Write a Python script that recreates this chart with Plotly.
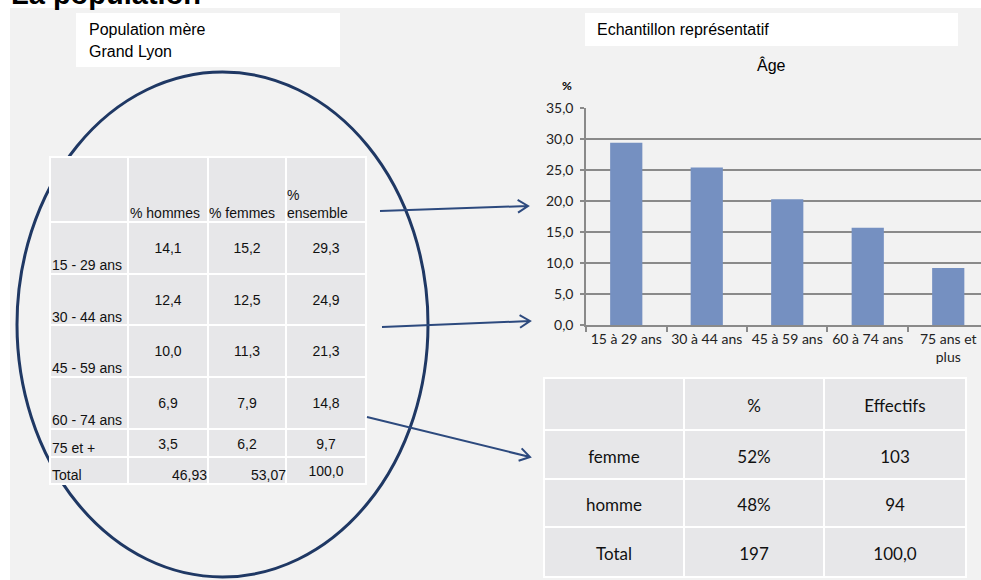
import plotly.graph_objects as go
import math

# ---------------- data ----------------
pop_age_groups = ["15 - 29 ans", "30 - 44 ans", "45 - 59 ans", "60 - 74 ans", "75 et +"]
pop_pct_hommes = [14.1, 12.4, 10.0, 6.9, 3.5]
pop_pct_femmes = [15.2, 12.5, 11.3, 7.9, 6.2]
pop_pct_ensemble = [29.3, 24.9, 21.3, 14.8, 9.7]
pop_totals = ["46,93", "53,07", "100,0"]
pop_headers = ["% hommes", "% femmes", "%<br>ensemble"]

sample_age_groups = ["15 à 29 ans", "30 à 44 ans", "45 à 59 ans", "60 à 74 ans", "75 ans et<br>plus"]
sample_age_pct = [29.4, 25.4, 20.3, 15.7, 9.2]

sexe_headers = ["", "%", "Effectifs"]
sexe_labels = ["femme", "homme", "Total"]
sexe_pct = ["52%", "48%", "197"]
sexe_effectifs = ["103", "94", "100,0"]

# ---------------- layout constants (pixels) ----------------
W, H = 981, 580
pop_col_edges = [0, 78, 158, 236, 316]
pop_row_edges = [0, 65, 117, 168, 220, 272, 300, 327]
sex_col_edges = [0, 140, 280, 422]
sex_row_edges = [0, 52, 101, 149, 199]


def X(px):
    return px / W


def Y(py):
    return 1 - py / H


def fr(v):
    return f"{v:.1f}".replace(".", ",")


NAVY = "#1f3864"
ARROW = "#2d4a7e"
CELL = "#e7e7e9"
SANS = "Liberation Sans, Arial, sans-serif"
CAL = "Lato, sans-serif"

fig = go.Figure()

# ---- bar chart ----
fig.add_trace(go.Bar(
    x=sample_age_groups, y=sample_age_pct, width=0.4,
    marker=dict(color="#7590c1", line=dict(width=0)),
    xaxis="x", yaxis="y", showlegend=False, hoverinfo="skip",
))

# ---- left table (population mère) : cells ----
n_rows_pop = len(pop_row_edges) - 1
n_cols_pop = len(pop_col_edges) - 1
fig.add_trace(go.Heatmap(
    x=pop_col_edges, y=pop_row_edges,
    z=[[1] * n_cols_pop for _ in range(n_rows_pop)],
    colorscale=[[0, CELL], [1, CELL]], showscale=False, xgap=2, ygap=2,
    hoverinfo="skip", xaxis="x2", yaxis="y2",
))

tx, ty, tt, tp = [], [], [], []


def put(x, y, t, p):
    tx.append(x); ty.append(y); tt.append(t); tp.append(p)


col_mid = [(pop_col_edges[i] + pop_col_edges[i + 1]) / 2 for i in range(n_cols_pop)]
# header
put(pop_col_edges[1] + 2, 57, pop_headers[0], "middle right")
put(pop_col_edges[2] + 1, 57, pop_headers[1], "middle right")
put(pop_col_edges[3] + 1, 48.5, pop_headers[2], "middle right")
# body
for i, g in enumerate(pop_age_groups):
    top = pop_row_edges[1 + i]
    tall = i < 4
    put(2, top + (44 if tall else 20), g, "middle right")
    vy = top + (27 if tall else 16)
    for c, vals in enumerate([pop_pct_hommes, pop_pct_femmes, pop_pct_ensemble]):
        put(col_mid[c + 1], vy, fr(vals[i]), "middle center")
top = pop_row_edges[6]
put(2, top + 19, "Total", "middle right")
put(pop_col_edges[2] - 1, top + 19, pop_totals[0], "middle left")
put(pop_col_edges[3], top + 19, pop_totals[1], "middle left")
put(col_mid[3], top + 15, pop_totals[2], "middle center")

fig.add_trace(go.Scatter(
    x=tx, y=ty, text=tt, textposition=tp, mode="text", cliponaxis=False,
    textfont=dict(family=SANS, size=14, color="#111"),
    hoverinfo="skip", showlegend=False, xaxis="x2", yaxis="y2",
))

# ---- right table (échantillon) ----
n_rows_sex = len(sex_row_edges) - 1
n_cols_sex = len(sex_col_edges) - 1
fig.add_trace(go.Heatmap(
    x=sex_col_edges, y=sex_row_edges,
    z=[[1] * n_cols_sex for _ in range(n_rows_sex)],
    colorscale=[[0, CELL], [1, CELL]], showscale=False, xgap=2, ygap=2,
    hoverinfo="skip", xaxis="x3", yaxis="y3",
))
sx, sy, st = [], [], []
scol_mid = [(sex_col_edges[i] + sex_col_edges[i + 1]) / 2 for i in range(n_cols_sex)]
srow_mid = [(sex_row_edges[i] + sex_row_edges[i + 1]) / 2 + 4 for i in range(n_rows_sex)]
table_rows = [sexe_headers] + [list(r) for r in zip(sexe_labels, sexe_pct, sexe_effectifs)]
for r, row in enumerate(table_rows):
    for c, val in enumerate(row):
        if val:
            sx.append(scol_mid[c]); sy.append(srow_mid[r]); st.append(val)
fig.add_trace(go.Scatter(
    x=sx, y=sy, text=st, textposition="middle center", mode="text", cliponaxis=False,
    textfont=dict(family=CAL, size=17, color="#111"),
    hoverinfo="skip", showlegend=False, xaxis="x3", yaxis="y3",
))

# ---------------- decorations ----------------
shapes = [
    dict(type="rect", xref="paper", yref="paper", x0=X(10), x1=X(W), y0=Y(H), y1=Y(8),
         fillcolor="#f2f2f2", line=dict(width=0), layer="below"),
    dict(type="rect", xref="paper", yref="paper", x0=X(76), x1=X(340), y0=Y(67), y1=Y(13),
         fillcolor="white", line=dict(width=0), layer="below"),
    dict(type="rect", xref="paper", yref="paper", x0=X(585), x1=X(958), y0=Y(46), y1=Y(13),
         fillcolor="white", line=dict(width=0), layer="below"),
    dict(type="circle", xref="paper", yref="paper", x0=X(17), x1=X(428), y0=Y(577), y1=Y(72),
         line=dict(color=NAVY, width=3), layer="below"),
    # white backing of the tables (gives the white grid lines)
    dict(type="rect", xref="paper", yref="paper", x0=X(49), x1=X(367), y0=Y(485), y1=Y(156),
         fillcolor="white", line=dict(width=0), layer="below"),
    dict(type="rect", xref="paper", yref="paper", x0=X(543), x1=X(967), y0=Y(578), y1=Y(377),
         fillcolor="white", line=dict(width=0), layer="below"),
]


def arrow(x0, y0, x1, y1, L=12, ang=32):
    dx, dy = x1 - x0, y1 - y0
    n = math.hypot(dx, dy)
    ux, uy = dx / n, dy / n
    pts = []
    for s in (1, -1):
        a = math.radians(ang) * s
        wx = -(ux * math.cos(a) - uy * math.sin(a)) * L
        wy = -(ux * math.sin(a) + uy * math.cos(a)) * L
        pts.append((x1 + wx, y1 + wy))
    path = (f"M{X(x0)},{Y(y0)} L{X(x1)},{Y(y1)} "
            f"M{X(pts[0][0])},{Y(pts[0][1])} L{X(x1)},{Y(y1)} L{X(pts[1][0])},{Y(pts[1][1])}")
    return dict(type="path", xref="paper", yref="paper", path=path,
                line=dict(color=ARROW, width=2), layer="above")


shapes += [arrow(380, 211, 528, 206), arrow(382, 327, 530, 321), arrow(367, 417, 530, 457)]

annotations = [
    dict(text="<b>La population</b>", x=X(9), y=Y(-6), xref="paper", yref="paper",
         xanchor="left", yanchor="middle", showarrow=False,
         font=dict(family=SANS, size=29, color="black")),
    dict(text="Population mère", x=X(87), y=Y(30), xref="paper", yref="paper",
         xanchor="left", yanchor="middle", showarrow=False,
         font=dict(family=SANS, size=16, color="black")),
    dict(text="Grand Lyon", x=X(87), y=Y(51), xref="paper", yref="paper",
         xanchor="left", yanchor="middle", showarrow=False,
         font=dict(family=SANS, size=16, color="black")),
    dict(text="Echantillon représentatif", x=X(595), y=Y(30), xref="paper", yref="paper",
         xanchor="left", yanchor="middle", showarrow=False,
         font=dict(family=SANS, size=16, color="black")),
    dict(text="Âge", x=X(771), y=Y(65), xref="paper", yref="paper",
         xanchor="center", yanchor="middle", showarrow=False,
         font=dict(family=SANS, size=16, color="black")),
    dict(text="<b>%</b>", x=X(567), y=Y(85), xref="paper", yref="paper",
         xanchor="center", yanchor="middle", showarrow=False,
         font=dict(family=CAL, size=12, color="black")),
]

hidden = dict(visible=False, showgrid=False, zeroline=False, fixedrange=True)

fig.update_layout(
    width=W, height=H, margin=dict(l=0, r=0, t=0, b=0, autoexpand=False),
    paper_bgcolor="white", plot_bgcolor="rgba(0,0,0,0)",
    separators=", ", showlegend=False,
    shapes=shapes, annotations=annotations,
    xaxis=dict(domain=[X(586), 1], range=[-0.5, 4.407], type="category",
               showline=True, linecolor="#8a8a8a", linewidth=1.5,
               ticks="outside", tickson="boundaries", ticklen=5, tickcolor="#8a8a8a",
               tickwidth=1.5, showgrid=False, tickangle=0,
               tickfont=dict(family=CAL, size=14, color="#222"), fixedrange=True),
    yaxis=dict(domain=[Y(325), Y(108)], range=[0, 35], dtick=5, tick0=0,
               tickformat=".1f", showline=True, linecolor="#8a8a8a", linewidth=1.5,
               ticks="outside", ticklen=4, tickcolor="#8a8a8a", tickwidth=1.5,
               showgrid=True, gridcolor="#8a8a8a", gridwidth=1.5, zeroline=False,
               ticklabelstandoff=4,
               tickfont=dict(family=CAL, size=14, color="#222"), fixedrange=True),
    xaxis2=dict(domain=[X(50), X(366)], range=[pop_col_edges[0], pop_col_edges[-1]],
                anchor="y2", **hidden),
    yaxis2=dict(domain=[Y(484), Y(157)], range=[pop_row_edges[-1], pop_row_edges[0]],
                anchor="x2", **hidden),
    xaxis3=dict(domain=[X(544), X(966)], range=[sex_col_edges[0], sex_col_edges[-1]],
                anchor="y3", **hidden),
    yaxis3=dict(domain=[Y(577), Y(378)], range=[sex_row_edges[-1], sex_row_edges[0]],
                anchor="x3", **hidden),
)

fig.write_html("out.html", config={"displayModeBar": False},
               post_script="document.body.style.margin='0px';")
